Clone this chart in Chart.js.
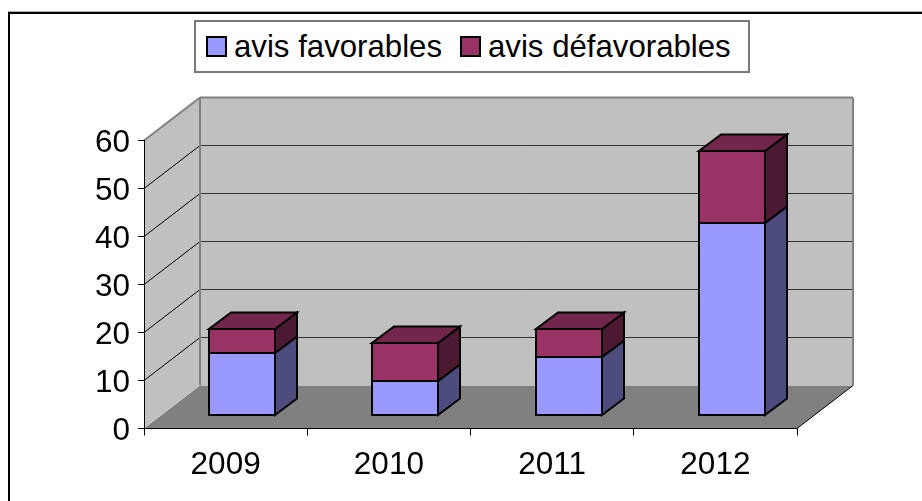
<!DOCTYPE html>
<html lang="fr">
<head>
    <meta charset="UTF-8">
    <title>Avis favorables et défavorables</title>
    <script src="https://cdn.jsdelivr.net/npm/chart.js"></script>
    <style>
        body {
            margin: 0;
            background: #fff;
            font-family: "Liberation Sans", Arial, sans-serif;
        }
        #wrap {
            position: relative;
            width: 922px;
            height: 501px;
            overflow: hidden;
        }
        #frame {
            position: absolute;
            left: 8px;
            top: 12px;
            width: 930px;
            height: 500px;
            border-left: 2px solid #000;
            border-top: 2px solid #000;
            box-shadow: 0 -1px 0 #b0b0b0;
        }
        #legend {
            position: absolute;
            box-sizing: border-box;
            left: 194px;
            top: 20px;
            width: 556px;
            height: 53px;
            border: 2px solid #7a7a7a;
            background: #fff;
            font-size: 31.2px;
            color: #000;
            white-space: nowrap;
        }
        #legend span.swatch {
            display: inline-block;
            box-sizing: border-box;
            width: 21px;
            height: 21px;
            border: 2px solid #000;
            margin-right: 7px;
        }
        #legend div {
            position: absolute;
            top: 0;
            height: 49px;
            display: flex;
            align-items: center;
        }
        canvas {
            position: absolute;
            left: 0;
            top: 0;
        }
    </style>
</head>
<body>
    <div id="wrap">
        <canvas id="chart" width="922" height="501"></canvas>
        <div id="frame"></div>
        <div id="legend"></div>
    </div>

    <script>
        const years = ['2009', '2010', '2011', '2012'];
        const favorables = [13, 7, 12, 40];
        const defavorables = [5, 8, 6, 15];
        const seriesNames = ['avis favorables', 'avis défavorables'];

        // 3D look: how far the back wall and the bar depth are shifted
        const wallDx = 56, wallDy = 43;
        const barShiftX = 16.5, barShiftY = 13.5;
        const barDepthX = 22, barDepthY = 16.5;

        function poly(ctx, pts, fill, stroke, width) {
            ctx.beginPath();
            pts.forEach((p, i) => i ? ctx.lineTo(p[0], p[1]) : ctx.moveTo(p[0], p[1]));
            ctx.closePath();
            if (fill) {
                ctx.fillStyle = fill;
                ctx.fill();
            }
            if (stroke) {
                ctx.strokeStyle = stroke;
                ctx.lineWidth = width;
                ctx.stroke();
            }
        }

        function line(ctx, x1, y1, x2, y2, color, width) {
            ctx.beginPath();
            ctx.moveTo(x1, y1);
            ctx.lineTo(x2, y2);
            ctx.strokeStyle = color;
            ctx.lineWidth = width;
            ctx.stroke();
        }

        // bar edges on whole pixels, in the shifted drawing space
        function edges(bar) {
            return {
                l: Math.round(bar.x - bar.width / 2 + barShiftX),
                r: Math.round(bar.x + bar.width / 2 + barShiftX),
                t: Math.round(bar.y - barShiftY),
                b: Math.round(bar.base - barShiftY)
            };
        }

        const walls = {
            id: 'walls',
            beforeDraw(chart) {
                const ctx = chart.ctx, y = chart.scales.y;
                const { left, right, top, bottom } = chart.chartArea;
                ctx.save();
                // floor
                poly(ctx, [[left, bottom], [left + wallDx, bottom - wallDy], [right + wallDx, bottom - wallDy], [right, bottom]], '#808080');
                // side wall and back wall
                poly(ctx, [[left, top], [left + wallDx, top - wallDy], [left + wallDx, bottom - wallDy], [left, bottom]], '#c0c0c0');
                poly(ctx, [[left + wallDx, top - wallDy], [right + wallDx, top - wallDy], [right + wallDx, bottom - wallDy], [left + wallDx, bottom - wallDy]], '#c0c0c0');
                // grid lines, from the value scale
                y.ticks.forEach(t => {
                    const py = y.getPixelForValue(t.value);
                    if (t.value === 0 || t.value === y.max) return;
                    line(ctx, left, py, left + wallDx, py - wallDy, '#000', 1);
                    line(ctx, left + wallDx, py - wallDy, right + wallDx, py - wallDy, '#333', 1);
                });
                // wall edges
                line(ctx, left, top, left + wallDx, top - wallDy, '#808080', 2);
                line(ctx, left + wallDx, top - wallDy, right + wallDx, top - wallDy, '#808080', 2);
                line(ctx, left + wallDx, top - wallDy, left + wallDx, bottom - wallDy, '#808080', 2);
                line(ctx, right + wallDx, top - wallDy, right + wallDx, bottom - wallDy, '#808080', 2);
                line(ctx, right, bottom, right + wallDx, bottom - wallDy, '#000', 1);
                ctx.restore();
            },
            beforeDatasetsDraw(chart) {
                const ctx = chart.ctx;
                const sides = ['#4c4c7f', '#4c1933'];
                const tops = ['#4c4c7f', '#72264c'];
                ctx.save();
                chart.data.datasets.forEach((ds, d) => {
                    chart.getDatasetMeta(d).data.forEach(bar => {
                        const e = edges(bar);
                        poly(ctx, [[e.r, e.t], [e.r + barDepthX, e.t - barDepthY], [e.r + barDepthX, e.b - barDepthY], [e.r, e.b]], sides[d], '#000', 2);
                        if (d === chart.data.datasets.length - 1) {
                            poly(ctx, [[e.l, e.t], [e.r, e.t], [e.r + barDepthX, e.t - barDepthY], [e.l + barDepthX, e.t - barDepthY]], tops[d], '#000', 2);
                        }
                    });
                });
                ctx.restore();
                // the bars themselves are drawn shifted back into the box
                ctx.save();
                ctx.translate(barShiftX, -barShiftY);
            },
            afterDatasetsDraw(chart) {
                const ctx = chart.ctx;
                ctx.restore();
                ctx.save();
                ctx.strokeStyle = '#000';
                ctx.lineWidth = 2;
                chart.data.datasets.forEach((ds, d) => {
                    chart.getDatasetMeta(d).data.forEach(bar => {
                        const e = edges(bar);
                        ctx.strokeRect(e.l, e.t, e.r - e.l, e.b - e.t);
                    });
                });
                ctx.restore();
            }
        };

        const chart = new Chart(document.getElementById('chart'), {
            type: 'bar',
            data: {
                labels: years,
                datasets: [
                    { label: seriesNames[0], data: favorables, backgroundColor: '#9999ff', borderWidth: 0 },
                    { label: seriesNames[1], data: defavorables, backgroundColor: '#993366', borderWidth: 0 }
                ]
            },
            options: {
                responsive: false,
                animation: false,
                layout: { padding: { top: 140.5, right: 125, left: 0, bottom: 0 } },
                plugins: { legend: { display: false }, tooltip: { enabled: false } },
                datasets: { bar: { barPercentage: 0.405, categoryPercentage: 1 } },
                scales: {
                    x: {
                        stacked: true,
                        afterFit(scale) { scale.height = 72.5; },
                        border: { color: '#000', width: 1 },
                        grid: { drawOnChartArea: false, color: '#000', tickLength: 7 },
                        ticks: { color: '#000', padding: 11, maxRotation: 0, font: { family: 'Liberation Sans', size: 31.5 } }
                    },
                    y: {
                        stacked: true,
                        min: 0,
                        max: 60,
                        afterFit(scale) {
                            scale.width = 144;
                            // the tick labels sit a little under their tick
                            if (!scale.shiftedLabels) {
                                const drawLabels = scale.drawLabels;
                                scale.drawLabels = function (area) {
                                    this.ctx.save();
                                    this.ctx.translate(0, 3);
                                    drawLabels.call(this, area);
                                    this.ctx.restore();
                                };
                                scale.shiftedLabels = true;
                            }
                        },
                        border: { color: '#000', width: 1 },
                        grid: { drawOnChartArea: false, color: '#000', tickLength: 6 },
                        ticks: { stepSize: 10, color: '#000', padding: 8, font: { family: 'Liberation Sans', size: 31.5 } }
                    }
                }
            },
            plugins: [walls]
        });

        // legend built from the chart's own datasets
        const legend = document.getElementById('legend');
        const legendLeft = [10, 264];
        chart.data.datasets.forEach((ds, i) => {
            const item = document.createElement('div');
            item.style.left = legendLeft[i] + 'px';
            const swatch = document.createElement('span');
            swatch.className = 'swatch';
            swatch.style.background = ds.backgroundColor;
            item.appendChild(swatch);
            item.appendChild(document.createTextNode(ds.label));
            legend.appendChild(item);
        });
    </script>
</body>
</html>
